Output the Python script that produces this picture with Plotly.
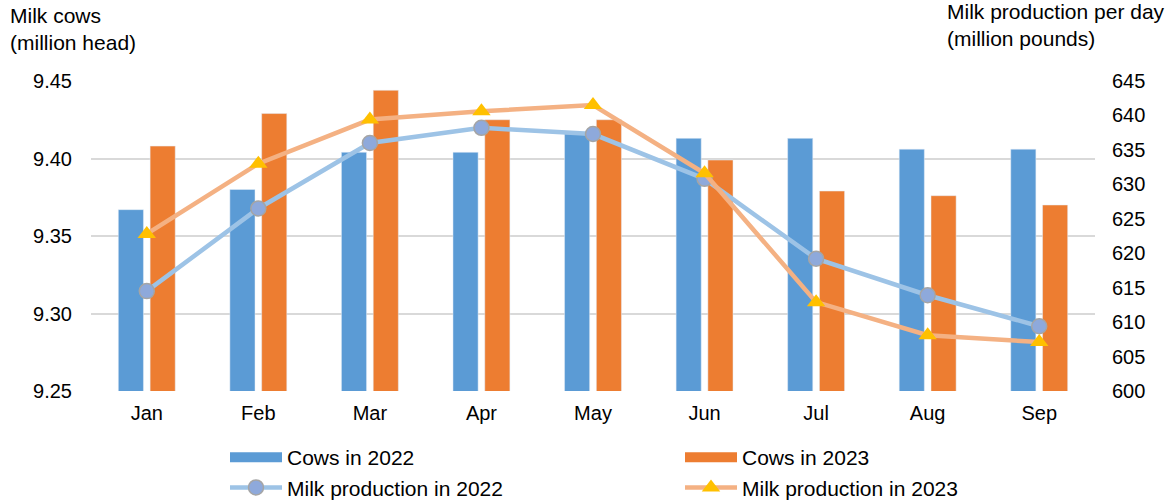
import plotly.graph_objects as go

months = ["Jan", "Feb", "Mar", "Apr", "May", "Jun", "Jul", "Aug", "Sep"]

# Milk cows, million head
cows_2022 = [9.367, 9.380, 9.404, 9.404, 9.416, 9.413, 9.413, 9.406, 9.406]
cows_2023 = [9.408, 9.429, 9.444, 9.425, 9.425, 9.399, 9.379, 9.376, 9.370]

# Milk production per day, million pounds
milk_2022 = [614.5, 626.5, 636.0, 638.2, 637.3, 630.8, 619.2, 613.9, 609.4]
milk_2023 = [622.8, 633.0, 639.4, 640.6, 641.5, 631.6, 612.9, 608.1, 607.1]

left_ticks = [9.25, 9.30, 9.35, 9.40, 9.45]
right_ticks = [600, 605, 610, 615, 620, 625, 630, 635, 640, 645]

BLUE = "#5B9BD5"
ORANGE = "#ED7D31"
LIGHT_BLUE = "#9DC3E6"
LIGHT_ORANGE = "#F4B183"
FONT = "Liberation Sans, Arial, sans-serif"

fig = go.Figure()

fig.add_trace(go.Bar(x=months, y=cows_2022, name="Cows in 2022",
                     marker=dict(color=BLUE), showlegend=False, yaxis="y"))
fig.add_trace(go.Bar(x=months, y=cows_2023, name="Cows in 2023",
                     marker=dict(color=ORANGE), showlegend=False, yaxis="y"))

fig.add_trace(go.Scatter(x=months, y=milk_2022, name="Milk production in 2022",
                         mode="lines+markers", yaxis="y2",
                         line=dict(color=LIGHT_BLUE, width=4.5),
                         marker=dict(symbol="circle", size=15, color="#8EA9DB",
                                     line=dict(color="#A5A5A5", width=1.5)),
                         legendrank=3))
fig.add_trace(go.Scatter(x=months, y=milk_2023, name="Milk production in 2023",
                         mode="lines+markers", yaxis="y2",
                         line=dict(color=LIGHT_ORANGE, width=4.5),
                         marker=dict(symbol="triangle-up", size=16, color="#FFC000"),
                         legendrank=4))

# Wide rectangular legend keys for the bar series
fig.add_trace(go.Scatter(x=[None], y=[None], mode="lines", name="Cows in 2022",
                         line=dict(color=BLUE, width=10), legendrank=1))
fig.add_trace(go.Scatter(x=[None], y=[None], mode="lines", name="Cows in 2023",
                         line=dict(color=ORANGE, width=10), legendrank=2))

fig.update_layout(
    width=1172, height=501,
    margin=dict(l=91, r=77, t=81, b=110, autoexpand=False),
    paper_bgcolor="white", plot_bgcolor="white",
    font=dict(family=FONT, size=20, color="#000000"),
    barmode="group", bargap=0.43, bargroupgap=0.21,
    xaxis=dict(type="category", showgrid=False, showline=False, zeroline=False,
               ticks="", tickfont=dict(size=20), ticklabelstandoff=8,
               automargin=False, range=[-0.5, 8.5]),
    yaxis=dict(range=[9.25, 9.45], tickvals=left_ticks,
               ticktext=[f"{v:.2f}" for v in left_ticks],
               showgrid=True, gridcolor="#D9D9D9", gridwidth=2,
               zeroline=False, showline=False, ticks="", automargin=False,
               ticklabelstandoff=18, tickfont=dict(size=20)),
    yaxis2=dict(range=[600, 645], tickvals=right_ticks, overlaying="y", side="right",
                showgrid=False, zeroline=False, showline=False, ticks="",
                automargin=False, ticklabelstandoff=16, tickfont=dict(size=20)),
    legend=dict(orientation="h", xref="container", yref="container",
                x=225 / 1172, y=1 - 437 / 501, xanchor="left", yanchor="top",
                entrywidth=388, entrywidthmode="pixels", itemwidth=52,
                font=dict(size=21), traceorder="normal",
                bgcolor="rgba(0,0,0,0)"),
    annotations=[
        dict(text="Milk cows<br>(million head)", xref="paper", yref="paper",
             x=-83 / 1004, y=1 + 79 / 310, xanchor="left", yanchor="top",
             align="left", showarrow=False, font=dict(size=21)),
        dict(text="Milk production per day<br>(million pounds)", xref="paper", yref="paper",
             x=(945 - 91) / 1004, y=1 + 83 / 310, xanchor="left", yanchor="top",
             align="left", showarrow=False, font=dict(size=21)),
    ],
)

fig.write_html("out.html")
